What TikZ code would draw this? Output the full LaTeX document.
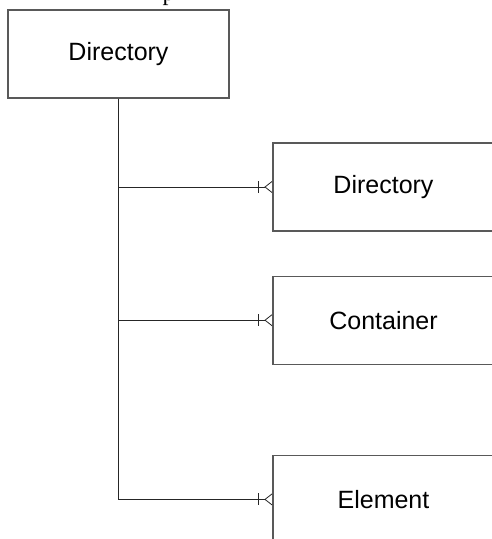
\documentclass[tikz,border=0pt]{standalone}
\usepackage{fontspec}
\setmainfont{Liberation Sans}
\newfontfamily\titlefont{Liberation Serif}
\usetikzlibrary{positioning,arrows.meta}
\tikzset{
  entity/.style={draw=black!65, line width=1.2pt, minimum width=221pt, minimum height=88pt,
    inner sep=0pt, font=\fontsize{25}{30}\selectfont},
  rel/.style={draw=black!85, line width=0.8pt,
    -{Bar[width=12pt,sep=6pt] Straight Barb[reversed,length=7pt,width=11pt]}}
}
\begin{document}
\begin{tikzpicture}[x=1pt,y=-1pt]
\useasboundingbox (0,0) rectangle (491,539);

\node[anchor=base west, inner sep=0pt, font=\titlefont\fontsize{24}{28}\selectfont] (caption) at (162.5,0) {p};

\node[entity] (root) at (118.5,54) {Directory};
\node[entity] (dir) at (383.5,187) {Directory};
\node[entity, below=44pt of dir] (cont) {Container};
\node[entity, below=90pt of cont] (elem) {Element};

\draw[rel] (root.south) |- (dir.west);
\draw[rel] (root.south) |- (cont.west);
\draw[rel] (root.south) |- (elem.west);

\end{tikzpicture}
\end{document}
